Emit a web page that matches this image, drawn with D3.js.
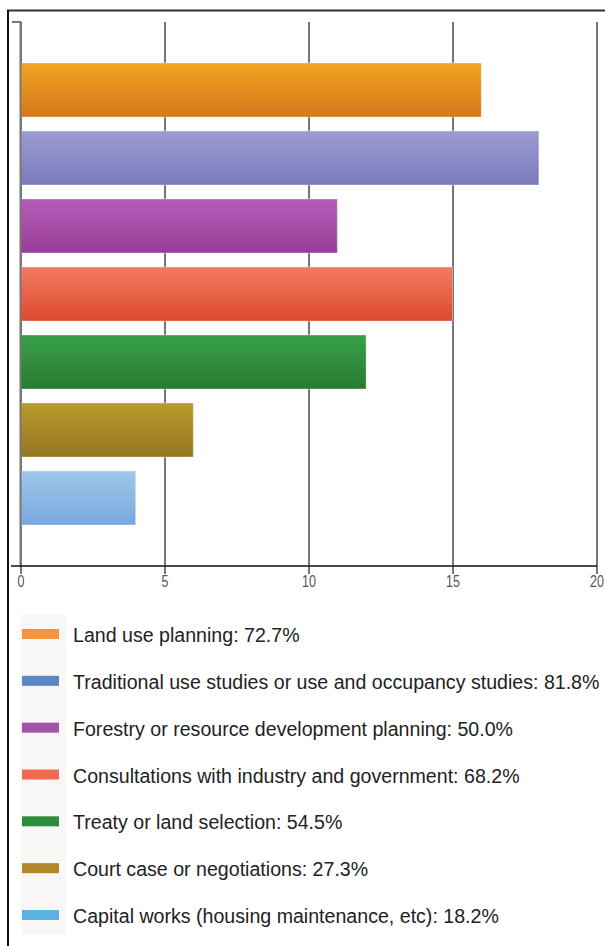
<!DOCTYPE html>
<html>
<head>
<meta charset="utf-8">
<script src="https://d3js.org/d3.v7.min.js"></script>
<style>
  html, body { margin: 0; padding: 0; background: #fff; }
  svg { display: block; }
</style>
</head>
<body>
<div id="vis"></div>
<script>
const FRAME_WIDTH = 605;
const FRAME_HEIGHT = 946;

// data (counts of 22 respondents)
const categories = [
  "Land use planning",
  "Traditional use studies or use and occupancy studies",
  "Forestry or resource development planning",
  "Consultations with industry and government",
  "Treaty or land selection",
  "Court case or negotiations",
  "Capital works (housing maintenance, etc)"
];
const counts = [16, 18, 11, 15, 12, 6, 4];
const percents = ["72.7%", "81.8%", "50.0%", "68.2%", "54.5%", "27.3%", "18.2%"];
const xTicks = [0, 5, 10, 15, 20];

// bar gradients (top, bottom) and legend swatch colours
const barTop = ["#f3a424", "#9c9cd2", "#b55cb8", "#f27b62", "#37a047", "#b89c2c", "#9fc7ea"];
const barBottom = ["#d4781e", "#7a7abb", "#983d98", "#dc4a2e", "#2a7a33", "#967520", "#78a9de"];
const swatch = ["#f7943e", "#5c87c7", "#a254a9", "#f26b50", "#2f8a3d", "#b3862b", "#5bb0e4"];

const PLOT = {left: 20.5, right: 596.5, top: 22, bottom: 566};

const svg = d3.select('#vis')
  .append('svg')
    .attr('width', FRAME_WIDTH)
    .attr('height', FRAME_HEIGHT);

// frame lines
svg.append('line')
  .attr('x1', 7).attr('x2', FRAME_WIDTH).attr('y1', 10.5).attr('y2', 10.5)
  .attr('stroke', '#333').attr('stroke-width', 2);
svg.append('line')
  .attr('x1', 8).attr('x2', 8).attr('y1', 10).attr('y2', FRAME_HEIGHT)
  .attr('stroke', '#111').attr('stroke-width', 2);

const x = d3.scaleLinear()
  .domain([0, 20])
  .range([PLOT.left, PLOT.right]);

const y = d3.scaleBand()
  .domain(categories)
  .range([56, 532])
  .paddingInner(14 / 68)
  .paddingOuter(7 / 68);

// gradients
const defs = svg.append('defs');
categories.forEach((c, i) => {
  const g = defs.append('linearGradient')
    .attr('id', 'grad' + i)
    .attr('x1', 0).attr('y1', 0).attr('x2', 0).attr('y2', 1);
  g.append('stop').attr('offset', '0%').attr('stop-color', barTop[i]);
  g.append('stop').attr('offset', '100%').attr('stop-color', barBottom[i]);
});

// gridlines (drawn with the axis generator)
svg.append('g')
  .attr('transform', 'translate(0,' + PLOT.top + ')')
  .call(d3.axisBottom(x).tickValues(xTicks).tickSize(PLOT.bottom - PLOT.top + 8).tickFormat(''))
  .call(g => g.select('.domain').remove())
  .call(g => g.selectAll('.tick line').attr('stroke', '#777').attr('stroke-width', 2));

// bars
svg.append('g')
  .selectAll('rect')
  .data(counts)
  .enter()
  .append('rect')
    .attr('x', x(0))
    .attr('y', (d, i) => y(categories[i]))
    .attr('width', d => x(d) - x(0))
    .attr('height', y.bandwidth())
    .attr('fill', (d, i) => 'url(#grad' + i + ')')
    .attr('stroke', '#ffffff')
    .attr('stroke-opacity', 0.35)
    .attr('stroke-width', 1);

// left axis line with small top tick
svg.append('path')
  .attr('d', 'M12,' + PLOT.top + 'H' + PLOT.left + 'V' + PLOT.bottom)
  .attr('fill', 'none')
  .attr('stroke', '#777')
  .attr('stroke-width', 2);

// bottom axis
const xAxis = svg.append('g')
  .attr('transform', 'translate(0,' + PLOT.bottom + ')')
  .call(d3.axisBottom(x).tickValues(xTicks).tickSize(0).tickPadding(10))
  .call(g => g.select('.domain').remove());
xAxis.selectAll('text')
  .attr('font-family', '"Liberation Sans", Arial, sans-serif')
  .attr('font-size', '16px')
  .attr('transform', 'scale(0.78,1)')
  .attr('fill', '#555');
svg.append('line')
  .attr('x1', 11).attr('x2', 597).attr('y1', PLOT.bottom).attr('y2', PLOT.bottom)
  .attr('stroke', '#111').attr('stroke-width', 1.5);

// legend
const ly = d3.scalePoint()
  .domain(categories)
  .range([635, 916]);

svg.append('rect')
  .attr('x', 21).attr('y', 614)
  .attr('width', 45).attr('height', 320)
  .attr('fill', '#f8f7f5');

const legend = svg.append('g')
  .selectAll('g')
  .data(categories)
  .enter()
  .append('g')
    .attr('transform', d => 'translate(0,' + ly(d) + ')');

legend.append('rect')
  .attr('x', 22).attr('y', -6)
  .attr('width', 37).attr('height', 10)
  .attr('fill', (d, i) => swatch[i]);

legend.append('text')
  .attr('x', 73)
  .attr('y', 7)
  .attr('font-family', '"Liberation Sans", Arial, sans-serif')
  .attr('font-size', '19.6px')
  .attr('fill', '#222')
  .text((d, i) => d + ': ' + percents[i]);
</script>
</body>
</html>
